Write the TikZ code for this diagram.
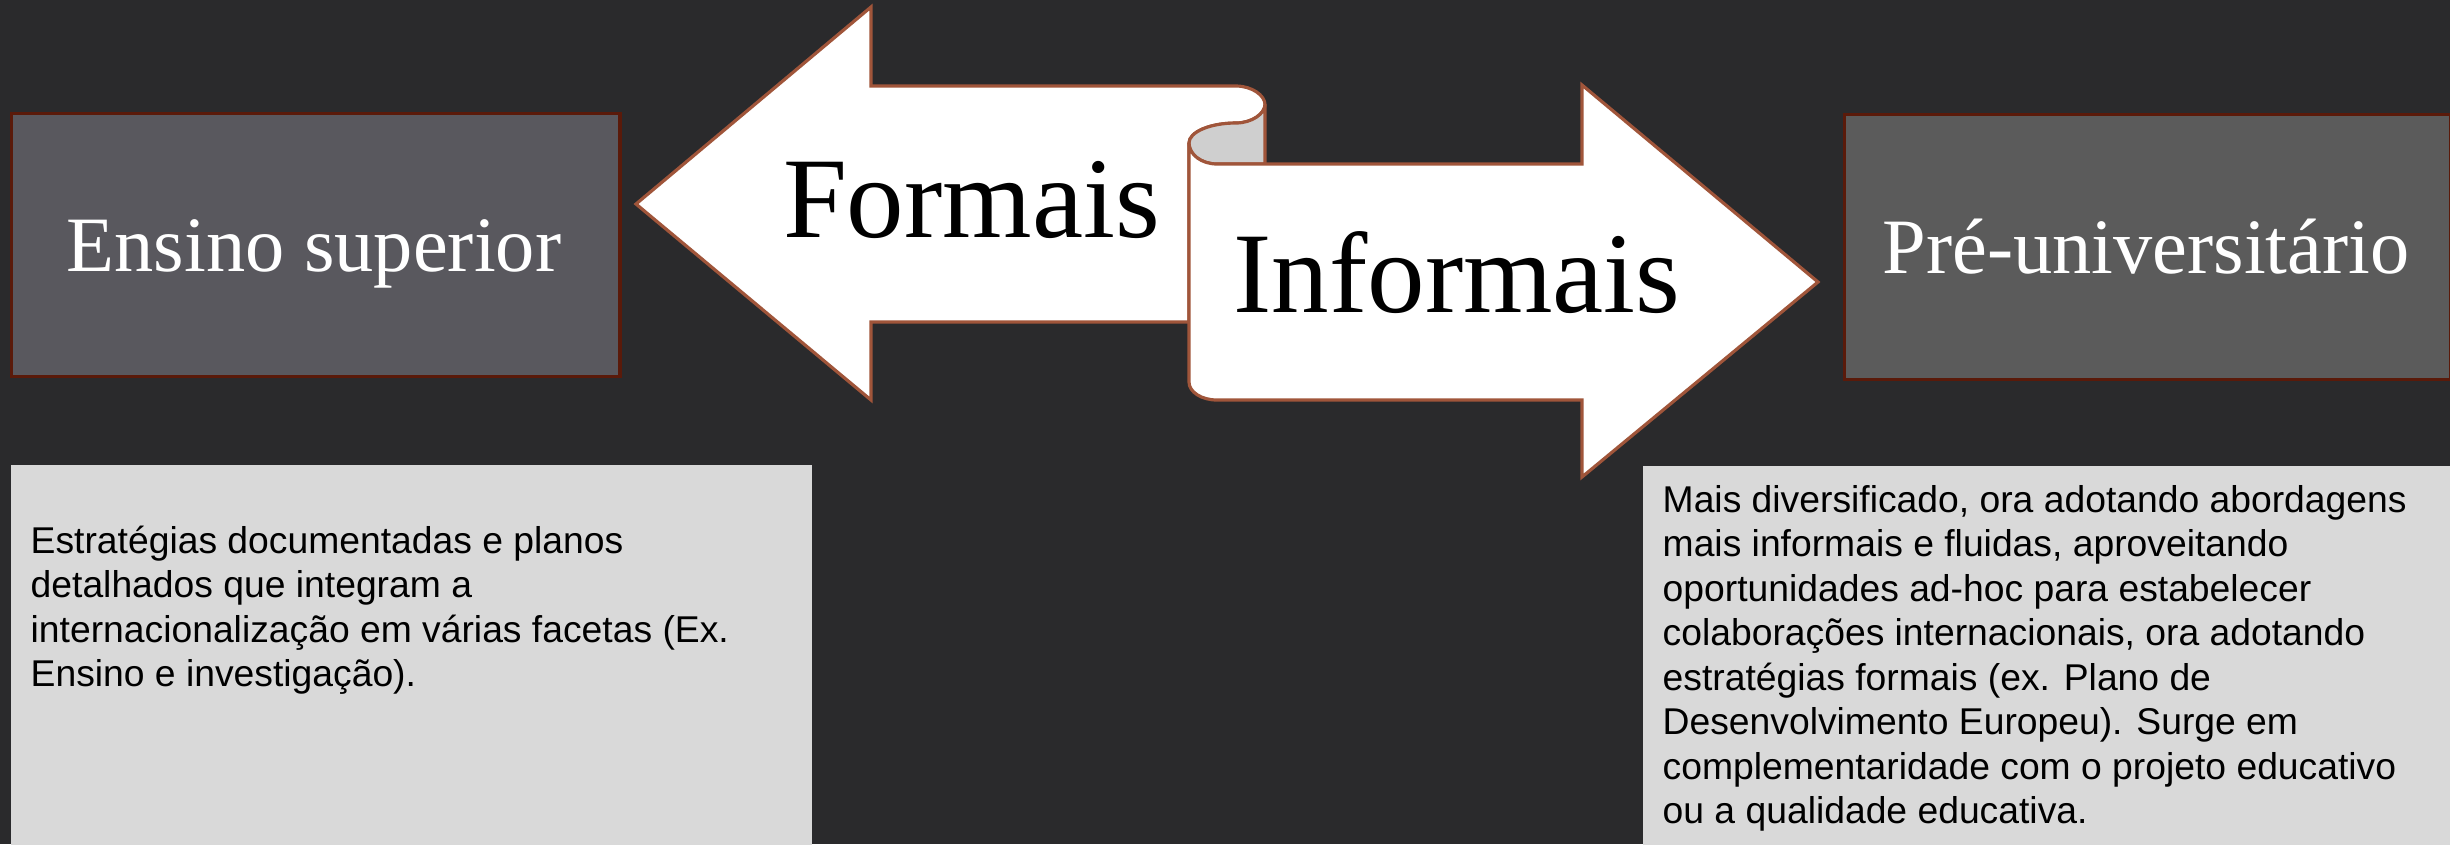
\documentclass[tikz,border=0pt]{standalone}
\usepackage{fontspec}
\setmainfont{Liberation Serif}
\newfontfamily\bodyfont{Liberation Sans}
\definecolor{bg}{HTML}{2A2A2C}
\definecolor{ensfill}{HTML}{59585E}
\definecolor{prefill}{HTML}{5B5B5B}
\definecolor{boxedge}{HTML}{5A1A0A}
\definecolor{arrowedge}{HTML}{A0553A}
\definecolor{curlfill}{HTML}{CFCFCF}
\definecolor{notefill}{HTML}{D9D9D9}
\begin{document}
\begin{tikzpicture}[x=0.01cm,y=-0.01cm,
  headbox/.style={draw=boxedge, line width=0.9pt, inner sep=0pt, anchor=north west},
  headtext/.style={text=white, inner sep=0pt, anchor=base, font=\fontsize{22.3}{26}\selectfont},
  shapefill/.style={fill=white, draw=arrowedge, line width=0.9pt},
  bigtext/.style={text=black, inner sep=0pt, anchor=base, font=\fontsize{32.7}{38}\selectfont},
  notebox/.style={fill=notefill, draw=none, inner sep=0pt, anchor=north west},
  notetext/.style={text=black, inner sep=0pt, anchor=base west, font=\bodyfont\fontsize{10.6}{12.66}\selectfont}
]
\fill[bg] (0,0) rectangle (2450,844);
\useasboundingbox (0,0) rectangle (2450,844);
\clip (0,0) rectangle (2450,844);

% heading boxes
\node[headbox, fill=ensfill, minimum width=6.08cm, minimum height=2.63cm] (ens) at (10,112) {};
\node[headtext] (enstext) at (314,271) {Ensino superior};
\node[headbox, fill=prefill, minimum width=6.06cm, minimum height=2.65cm] (pre) at (1843,113) {};
\node[headtext] (pretext) at (2146,273) {Pré-universitário};

% Formais arrow (pointing left)
\filldraw[shapefill] (636,204) -- (871,7) -- (871,86) -- (1236,86)
  .. controls (1252,86) and (1265,95.5) .. (1265,104.5)
  .. controls (1265,113.5) and (1252,123) .. (1236,123)
  .. controls (1210,123) and (1189,132) .. (1189,143)
  -- (1189,322) -- (871,322) -- (871,400) -- cycle;

% curl (back side of the scroll)
\filldraw[fill=curlfill, draw=arrowedge, line width=0.9pt] (1236,123)
  .. controls (1252,123) and (1265,113.5) .. (1265,104.5)
  -- (1265,164) -- (1217,164)
  .. controls (1201.5,164) and (1189,154.6) .. (1189,143)
  .. controls (1189,132) and (1210,123) .. (1236,123) -- cycle;

% Informais arrow (pointing right)
\filldraw[shapefill] (1189,143)
  .. controls (1189,154.6) and (1201.5,164) .. (1217,164)
  -- (1582,164) -- (1582,85) -- (1818,282) -- (1582,477) -- (1582,400) -- (1217,400)
  .. controls (1201.5,400) and (1189,392) .. (1189,382) -- cycle;

\node[bigtext] (formais) at (971.5,237) {Formais};
\node[bigtext] (informais) at (1457,312) {Informais};

% note boxes
\node[notebox, minimum width=8.01cm, minimum height=4.0cm] (leftnote) at (10,464) {};
\node[notetext] (lefttext) at (30,553) {\parbox[t]{7.9cm}{\raggedright
Estratégias documentadas e planos\\
detalhados que integram a\\
internacionalização em várias facetas (Ex.\\
Ensino e investigação).}};

\node[notebox, minimum width=8.2cm, minimum height=4.0cm] (rightnote) at (1642,465) {};
\node[notetext] (righttext) at (1662,512) {\parbox[t]{7.9cm}{\raggedright
Mais diversificado, ora adotando abordagens\\
mais informais e fluidas, aproveitando\\
oportunidades ad-hoc para estabelecer\\
colaborações internacionais, ora adotando\\
estratégias formais (ex. Plano de\\
Desenvolvimento Europeu). Surge em\\
complementaridade com o projeto educativo\\
ou a qualidade educativa.}};
\end{tikzpicture}
\end{document}
